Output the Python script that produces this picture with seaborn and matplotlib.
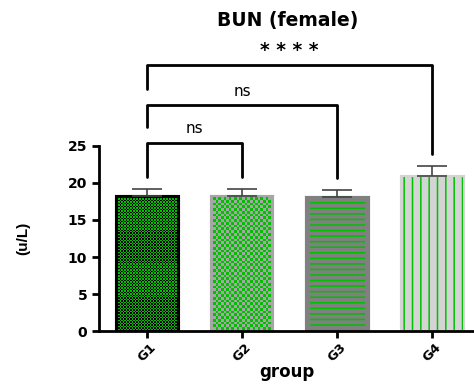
import numpy as np
import pandas as pd
import seaborn as sns
import matplotlib.pyplot as plt
from matplotlib.colors import to_rgba

# Data
groups = ["G1", "G2", "G3", "G4"]
means = [18.2, 18.2, 18.1, 20.9]
sds = [0.95, 0.95, 1.0, 1.4]

# Significance comparisons (pairs of group indices, label, bracket level)
comparisons = [(0, 1, "ns"), (0, 2, "ns"), (0, 3, "* * * *")]
bracket_levels = [25.4, 30.5, 35.9]

sns.set_style("ticks")
plt.rcParams["font.family"] = ["DejaVu Sans"]
plt.rcParams["hatch.linewidth"] = 1.1
plt.rcParams["text.color"] = "black"
plt.rcParams["axes.labelcolor"] = "black"
plt.rcParams["xtick.color"] = "black"
plt.rcParams["ytick.color"] = "black"

green = "#00c000"
faces = ["#000000", "#a6a6a6", "#808080", "#d4d4d4"]
edges = ["#000000", "#a6a6a6", "#808080", "#d4d4d4"]

df = pd.DataFrame({"group": groups, "value": means})

fig = plt.figure(figsize=(4.74, 3.85), dpi=100)
ax = fig.add_axes([0.209, 0.140, 0.791, 0.481])

sns.barplot(data=df, x="group", y="value", hue="group", palette=faces,
            width=0.66, legend=False, ax=ax, zorder=2)

ax.set_xlim(-0.505, 3.44)
ax.set_ylim(0, 25)

# bar styling: checker pattern for G1/G2, line hatches for G3/G4
checker_cells = {0: (40, 90), 1: (22, 48)}
for i, patch in enumerate(list(ax.patches)):
    patch.set_edgecolor(edges[i])
    patch.set_linewidth(2.2 if i == 0 else 1.5)
    x, y = patch.get_x(), patch.get_y()
    w, h = patch.get_width(), patch.get_height()
    if i in checker_cells:
        nx, ny = checker_cells[i]
        mask = np.add.outer(np.arange(ny), np.arange(nx)) % 2 == 0
        img = np.zeros((ny, nx, 4))
        img[mask] = to_rgba(green)
        img[~mask] = to_rgba(faces[i])
        pad = 0.018 if i == 0 else 0.025
        im = ax.imshow(img, extent=(x + pad, x + w - pad, y + 0.15, y + h - 0.2),
                       aspect="auto", interpolation="nearest", zorder=2.5)
        im.set_clip_path(patch)
    else:
        hatch = "---" if i == 2 else "||"
        ax.bar(i, h, width=w * 0.88 if i == 2 else w, bottom=y,
               color="none", edgecolor=green, linewidth=0, hatch=hatch, zorder=2.6)
    # redraw edge on top
    ax.bar(i, h, width=w, color="none", edgecolor=edges[i],
           linewidth=2.2 if i == 0 else 1.5, zorder=2.8)

ax.set_xlim(-0.505, 3.44)
ax.set_ylim(0, 25)

# error bars (upper only)
ax.errorbar(range(len(groups)), means, yerr=[np.zeros(len(sds)), sds],
            fmt="none", ecolor="#444444", elinewidth=1.2, capsize=11,
            capthick=1.2, zorder=3)

# significance brackets
leg_bottom = [m + s + 1.6 for m, s in zip(means, sds)]
for k, ((a, b, label), level) in enumerate(zip(comparisons, bracket_levels)):
    left_end = leg_bottom[a] if k == 0 else bracket_levels[k - 1] + 2.2
    ax.plot([a, a, b, b], [left_end, level, level, leg_bottom[b]],
            color="black", linewidth=2, clip_on=False, zorder=4)
    is_star = label.startswith("*")
    ax.text((a + b) / 2, level + (0.7 if is_star else 0.9), label,
            ha="center", va="bottom",
            fontsize=13.5 if is_star else 11,
            fontweight="bold" if is_star else "normal",
            clip_on=False)

fig.text(0.607, 0.948, "BUN (female)", ha="center", va="center",
         fontsize=13.5, fontweight="bold")
ax.set_xlabel("group", fontsize=12, fontweight="bold", labelpad=-1)
ax.set_ylabel("(u/L)", fontsize=11, fontweight="bold", labelpad=27,
              family="Liberation Sans")

ax.set_yticks([0, 5, 10, 15, 20, 25])
ax.tick_params(axis="both", width=2, length=5, labelsize=10, color="black")
ax.tick_params(axis="x", pad=2)
for lbl in ax.get_xticklabels():
    lbl.set_rotation(45)
    lbl.set_fontweight("bold")
    lbl.set_fontsize(9.5)
for lbl in ax.get_yticklabels():
    lbl.set_fontweight("bold")

sns.despine(ax=ax)
for side in ["left", "bottom"]:
    ax.spines[side].set_linewidth(2)
    ax.spines[side].set_color("black")
    ax.spines[side].set_zorder(5)

fig.savefig("out.png", dpi=100)
